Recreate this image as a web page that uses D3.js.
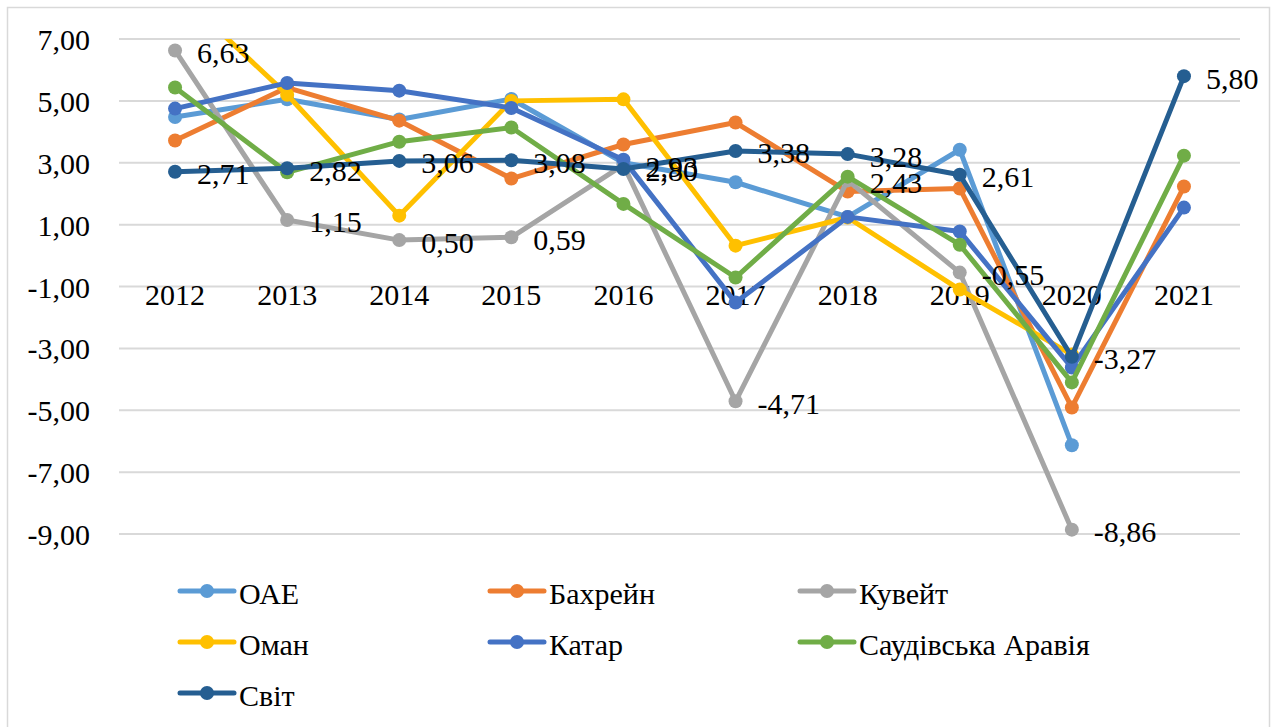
<!DOCTYPE html>
<html>
<head>
<meta charset="utf-8">
<script src="https://cdn.jsdelivr.net/npm/d3@7"></script>
</head>
<body style="margin:0; background:#fff">
<div id="chart"></div>
<script>
// Темпи зростання ВВП, %
const years = ['2012', '2013', '2014', '2015', '2016', '2017', '2018', '2019', '2020', '2021'];
const yTicks = [7, 5, 3, 1, -1, -3, -5, -7, -9];

const uae = [4.48, 5.05, 4.4, 5.06, 3.0, 2.37, 1.25, 3.42, -6.13, null];
const bahrain = [3.72, 5.43, 4.36, 2.49, 3.59, 4.3, 2.07, 2.17, -4.91, 2.23];
const kuwait = [6.63, 1.15, 0.50, 0.59, 2.93, -4.71, 2.43, -0.55, -8.86, null];
const oman = [8.6, 5.2, 1.29, 5.0, 5.05, 0.32, 1.23, -1.1, -3.2, null];
const qatar = [4.75, 5.58, 5.33, 4.77, 3.1, -1.52, 1.25, 0.78, -3.62, 1.55];
const saudi = [5.43, 2.69, 3.68, 4.14, 1.67, -0.71, 2.55, 0.35, -4.1, 3.23];
const world = [2.71, 2.82, 3.06, 3.08, 2.80, 3.38, 3.28, 2.61, -3.27, 5.80];

const names = ['ОАЕ', 'Бахрейн', 'Кувейт', 'Оман', 'Катар', 'Саудівська Аравія', 'Світ'];
const colors = ['#5B9BD5', '#ED7D31', '#A5A5A5', '#FFC000', '#4472C4', '#70AD47', '#255E91'];
const seriesValues = [uae, bahrain, kuwait, oman, qatar, saudi, world];
const labelled = [false, false, true, false, false, false, true];

const series = names.map((name, i) => ({
  name, color: colors[i], labels: labelled[i],
  points: years.map((yr, j) => ({ year: yr, value: seriesValues[i][j] }))
}));

const width = 1279, height = 727;
const plot = { left: 119, right: 1240, top: 39, bottom: 534 };
const fontSize = 30;
const font = "'Liberation Serif'";

const svg = d3.select('#chart').append('svg')
  .attr('width', width)
  .attr('height', height)
  .style('display', 'block');

svg.append('rect')
  .attr('x', 7.5).attr('y', 7.5)
  .attr('width', 1262).attr('height', 740)
  .attr('fill', 'none')
  .attr('stroke', '#D9D9D9')
  .attr('stroke-width', 1.5);

const x = d3.scaleBand().domain(years).range([plot.left, plot.right]);
const cx = d => x(d) + x.bandwidth() / 2;
const y = d3.scaleLinear().domain([-9, 7]).range([plot.bottom, plot.top]);

// сітка
svg.append('g')
  .selectAll('line')
  .data(yTicks)
  .join('line')
  .attr('x1', plot.left).attr('x2', plot.right)
  .attr('y1', d => y(d)).attr('y2', d => y(d))
  .attr('stroke', '#D9D9D9')
  .attr('stroke-width', 2);

const fmt = v => d3.format('.2f')(v).replace('.', ',').replace('−', '-');

// вісь Y
const yAxis = svg.append('g')
  .attr('transform', `translate(${plot.left - 29},0)`)
  .call(d3.axisLeft(y).tickValues(yTicks).tickSize(0).tickPadding(0).tickFormat(fmt));
yAxis.select('.domain').remove();
yAxis.selectAll('text')
  .style('font-family', font)
  .attr('font-size', fontSize)
  .attr('fill', '#000')
  .attr('dy', '0.35em');

// вісь X (перетин на -1)
const xAxis = svg.append('g')
  .attr('transform', `translate(0,${y(-1)})`)
  .call(d3.axisBottom(x).tickSize(0).tickPadding(0));
xAxis.select('.domain').remove();
xAxis.selectAll('text')
  .style('font-family', font)
  .attr('font-size', fontSize)
  .attr('fill', '#000')
  .attr('dy', '0.6em');

svg.append('clipPath').attr('id', 'plotclip')
  .append('rect')
  .attr('x', 0).attr('y', plot.top)
  .attr('width', width).attr('height', height);

const line = d3.line()
  .defined(d => d.value !== null)
  .x(d => cx(d.year))
  .y(d => y(d.value));

const gSeries = svg.append('g').attr('clip-path', 'url(#plotclip)');
series.forEach(s => {
  const g = gSeries.append('g');
  g.append('path')
    .datum(s.points)
    .attr('fill', 'none')
    .attr('stroke', s.color)
    .attr('stroke-width', 5)
    .attr('stroke-linejoin', 'round')
    .attr('d', line);
  g.selectAll('circle')
    .data(s.points.filter(d => d.value !== null))
    .join('circle')
    .attr('cx', d => cx(d.year))
    .attr('cy', d => y(d.value))
    .attr('r', 7)
    .attr('fill', s.color);
});

// підписи даних
series.filter(s => s.labels).forEach(s => {
  svg.append('g')
    .selectAll('text')
    .data(s.points.filter(d => d.value !== null))
    .join('text')
    .attr('x', d => cx(d.year) + 22)
    .attr('y', d => y(d.value) + 2)
    .attr('dominant-baseline', 'central')
    .style('font-family', font)
    .attr('font-size', fontSize)
    .attr('fill', '#000')
    .text(d => fmt(d.value));
});

// легенда
const legendCols = [180, 490, 800];
const legendRows = [591, 642, 693];
const legend = svg.append('g')
  .selectAll('g')
  .data(series)
  .join('g')
  .attr('transform', (d, i) => `translate(${legendCols[i % 3]},${legendRows[Math.floor(i / 3)]})`);
legend.append('line')
  .attr('x1', 0).attr('x2', 54)
  .attr('stroke', d => d.color)
  .attr('stroke-width', 5)
  .attr('stroke-linecap', 'round');
legend.append('circle')
  .attr('cx', 27).attr('r', 7)
  .attr('fill', d => d.color);
legend.append('text')
  .attr('x', 59)
  .attr('y', 2)
  .attr('dominant-baseline', 'central')
  .style('font-family', font)
  .attr('font-size', fontSize)
  .attr('fill', '#000')
  .text(d => d.name);
</script>
</body>
</html>
